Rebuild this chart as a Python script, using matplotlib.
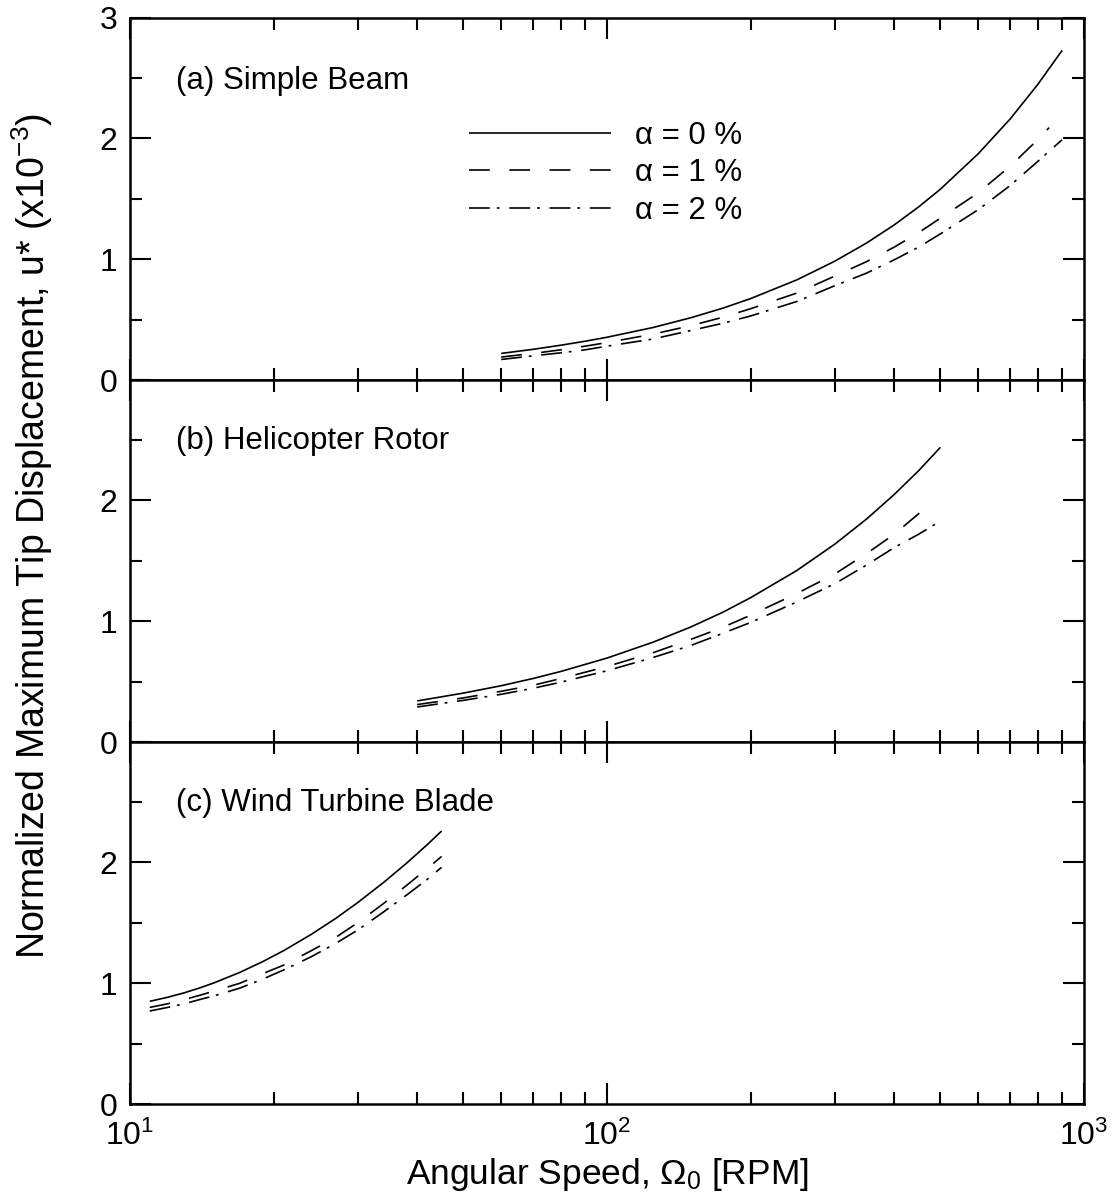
import matplotlib
matplotlib.use("Agg")
import matplotlib.pyplot as plt
from matplotlib.ticker import LogLocator, NullFormatter, MultipleLocator

plt.rcParams['font.family'] = ['Liberation Sans', 'DejaVu Sans']
plt.rcParams['mathtext.fontset'] = 'custom'
plt.rcParams['mathtext.rm'] = 'Liberation Sans'
plt.rcParams['mathtext.it'] = 'Liberation Sans:italic'
plt.rcParams['mathtext.bf'] = 'Liberation Sans:bold'
plt.rcParams['lines.scale_dashes'] = False

# (a) Simple Beam -- angular speed [RPM] and tip displacement (x1e-3)
a_x0 = [60, 70, 80, 90, 100, 125, 150, 175, 200, 250, 300, 350, 400, 450, 500, 600, 700, 800, 900]
a_y0 = [0.22, 0.254, 0.288, 0.321, 0.354, 0.435, 0.516, 0.595, 0.674, 0.829, 0.983, 1.134,
        1.284, 1.433, 1.58, 1.873, 2.161, 2.447, 2.73]
a_x1 = [60, 70, 80, 90, 100, 125, 150, 175, 200, 250, 300, 350, 400, 450, 500, 600, 700, 800, 845]
a_y1 = [0.19, 0.22, 0.25, 0.28, 0.31, 0.38, 0.45, 0.52, 0.59, 0.72, 0.86, 0.98,
        1.10, 1.22, 1.34, 1.55, 1.77, 1.99, 2.09]
a_x2 = [60, 70, 80, 90, 100, 125, 150, 175, 200, 250, 300, 350, 400, 450, 500, 600, 700, 800, 900]
a_y2 = [0.17, 0.20, 0.225, 0.25, 0.28, 0.34, 0.41, 0.47, 0.53, 0.65, 0.78, 0.885,
        0.995, 1.10, 1.21, 1.41, 1.61, 1.81, 1.99]

# (b) Helicopter Rotor
b_x0 = [40, 50, 60, 70, 80, 100, 125, 150, 175, 200, 250, 300, 350, 400, 450, 500]
b_y0 = [0.34, 0.405, 0.466, 0.526, 0.584, 0.695, 0.827, 0.953, 1.075, 1.195, 1.42, 1.637,
        1.846, 2.049, 2.246, 2.44]
b_x1 = [40, 50, 60, 70, 80, 100, 125, 150, 175, 200, 250, 300, 350, 400, 450, 467]
b_y1 = [0.31, 0.365, 0.42, 0.47, 0.525, 0.625, 0.74, 0.85, 0.95, 1.05, 1.23, 1.39,
        1.56, 1.72, 1.89, 1.94]
b_x2 = [40, 50, 60, 70, 80, 100, 125, 150, 175, 200, 250, 300, 350, 400, 450, 500]
b_y2 = [0.29, 0.345, 0.395, 0.445, 0.495, 0.59, 0.70, 0.80, 0.90, 0.99, 1.16, 1.31,
        1.465, 1.61, 1.72, 1.83]

# (c) Wind Turbine Blade
c_x0 = [11, 12, 13, 14, 15, 17, 19, 21, 24, 27, 30, 34, 38, 42, 45]
c_y0 = [0.85, 0.884, 0.921, 0.961, 1.003, 1.09, 1.18, 1.27, 1.405, 1.537, 1.667, 1.834,
        1.994, 2.148, 2.26]
c_x1 = [11, 12, 13, 14, 15, 17, 19, 21, 24, 27, 30, 34, 38, 42, 45]
c_y1 = [0.80, 0.83, 0.865, 0.90, 0.935, 1.00, 1.08, 1.15, 1.27, 1.38, 1.50, 1.66,
        1.81, 1.95, 2.05]
c_x2 = [11, 12, 13, 14, 15, 17, 19, 21, 24, 27, 30, 34, 38, 42, 45]
c_y2 = [0.77, 0.80, 0.83, 0.865, 0.895, 0.96, 1.035, 1.11, 1.22, 1.33, 1.44, 1.59,
        1.73, 1.86, 1.96]

panel_titles = ["(a) Simple Beam", "(b) Helicopter Rotor", "(c) Wind Turbine Blade"]
series_labels = ["\u03b1 = 0 %", "\u03b1 = 1 %", "\u03b1 = 2 %"]

panels = [
    [(a_x0, a_y0), (a_x1, a_y1), (a_x2, a_y2)],
    [(b_x0, b_y0), (b_x1, b_y1), (b_x2, b_y2)],
    [(c_x0, c_y0), (c_x1, c_y1), (c_x2, c_y2)],
]

styles = [
    dict(linestyle='-'),
    dict(linestyle=(0, (15, 14))),
    dict(linestyle=(0, (15, 5, 2, 7))),
]

fig = plt.figure(figsize=(11.15, 11.98), dpi=100)
left, width = 130 / 1115, 954 / 1115
h = 362.3 / 1198
bottoms = [(1198 - 380) / 1198, (1198 - 742) / 1198, (1198 - 1104) / 1198]
title_y = [0.804, 0.809, 0.809]

axes = []
for i in range(3):
    ax = fig.add_axes([left, bottoms[i], width, h])
    axes.append(ax)
    for (xs, ys), st in zip(panels[i], styles):
        ax.plot(xs, ys, color='black', lw=1.2, solid_capstyle='butt', **st)
    ax.set_xscale('log')
    ax.set_xlim(10, 1000)
    ax.set_ylim(0, 3)
    ax.xaxis.set_major_locator(LogLocator(base=10, numticks=10))
    ax.xaxis.set_minor_locator(LogLocator(base=10, subs=range(2, 10), numticks=20))
    ax.xaxis.set_minor_formatter(NullFormatter())
    ax.yaxis.set_major_locator(MultipleLocator(1))
    ax.yaxis.set_minor_locator(MultipleLocator(0.5))
    ax.tick_params(which='both', direction='in', top=True, right=True,
                   width=1.5, labelsize=23, pad=9)
    ax.tick_params(which='major', length=15)
    ax.tick_params(which='minor', length=8.5)
    for sp in ax.spines.values():
        sp.set_linewidth(1.8)
    if i < 2:
        ax.tick_params(labelbottom=False)
    if i > 0:
        ax.set_yticks([0, 1, 2, 3])
        ax.set_yticklabels(['0', '1', '2', ''])
    ax.text(0.048, title_y[i], panel_titles[i], transform=ax.transAxes,
            fontsize=22.5, ha='left', va='baseline')

axes[2].tick_params(axis='x', which='major', pad=12)

axes[0].legend(series_labels, loc='upper left', bbox_to_anchor=(0.355, 0.716),
               frameon=False, fontsize=22.5, handlelength=4.55, handletextpad=0.77,
               labelspacing=0.25, borderpad=0, borderaxespad=0)

fig.text(607 / 1115, (1198 - 1184) / 1198, "Angular Speed, $\\Omega_0$ [RPM]",
         fontsize=25.5, ha='center', va='baseline')
fig.text(32 / 1115, (1198 - 536) / 1198,
         "Normalized Maximum Tip Displacement, u* (x10$^{-3}$)",
         fontsize=27, ha='center', va='center', rotation=90)

fig.savefig("out.png", dpi=100)
